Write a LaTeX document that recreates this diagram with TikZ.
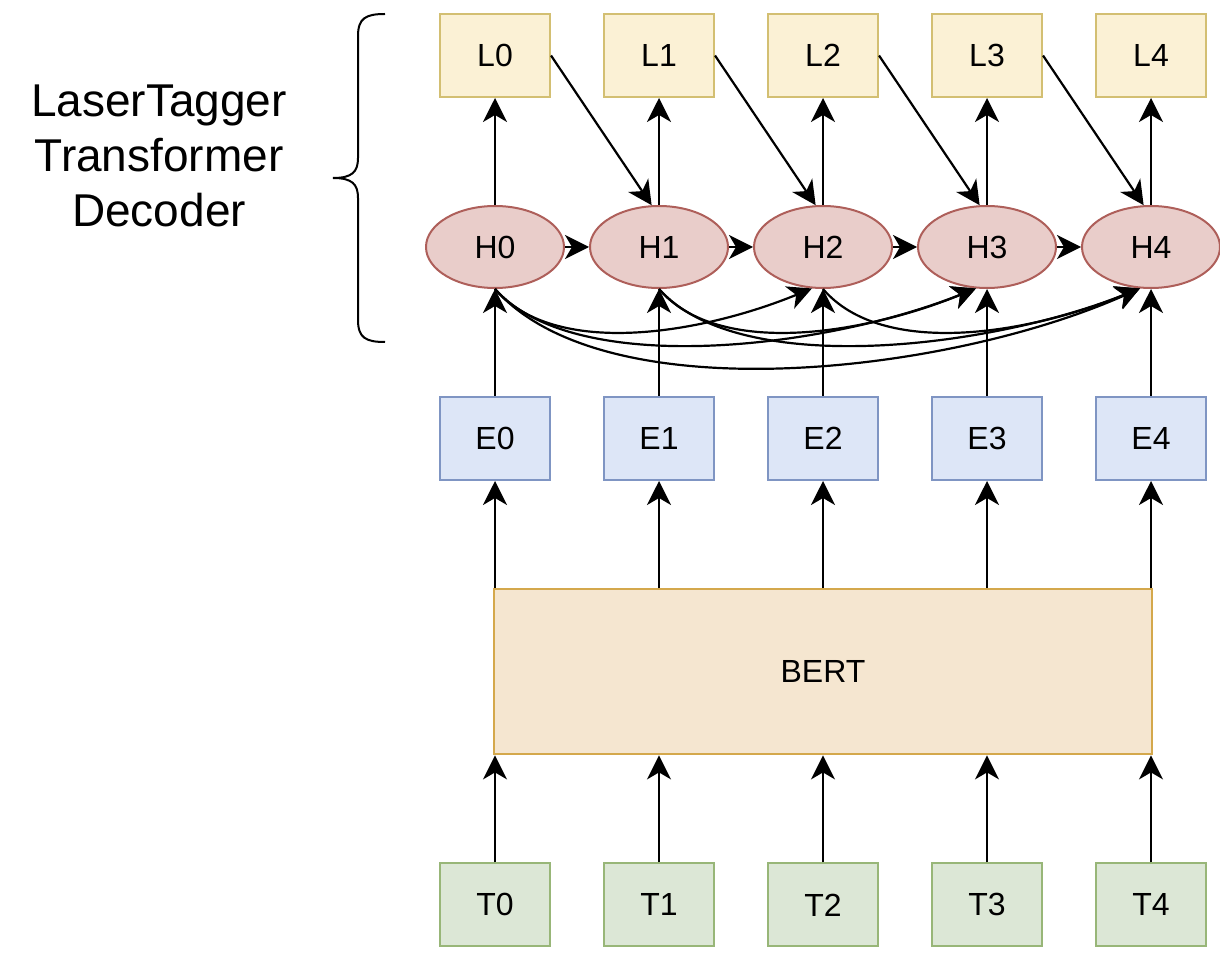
\documentclass[tikz,border=0pt]{standalone}
\usepackage{fontspec}
\setmainfont{Liberation Sans}
\usetikzlibrary{positioning, arrows.meta, shapes.geometric}
\definecolor{labfill}{HTML}{FBF1D5}
\definecolor{labdraw}{HTML}{D3BF72}
\definecolor{hidfill}{HTML}{E9CDCA}
\definecolor{hiddraw}{HTML}{AE5F5A}
\definecolor{embfill}{HTML}{DDE6F7}
\definecolor{embdraw}{HTML}{7F95C3}
\definecolor{tokfill}{HTML}{DCE7D6}
\definecolor{tokdraw}{HTML}{98B678}
\definecolor{bertfill}{HTML}{F5E6D0}
\definecolor{bertdraw}{HTML}{D4A84C}
\tikzset{
  cell/.style    = {rectangle, line width=1pt, minimum width=55pt, minimum height=41.5pt,
                    inner sep=0pt, font=\fontsize{16}{19}\selectfont},
  labbox/.style  = {cell, draw=labdraw, fill=labfill},
  embbox/.style  = {cell, draw=embdraw, fill=embfill},
  tokbox/.style  = {cell, draw=tokdraw, fill=tokfill},
  bertbox/.style = {cell, draw=bertdraw, fill=bertfill, line width=1.2pt,
                    minimum width=329pt, minimum height=82.5pt},
  hid/.style     = {ellipse, line width=1pt, draw=hiddraw, fill=hidfill, minimum width=69pt,
                    minimum height=41pt, inner sep=0pt, font=\fontsize{16}{19}\selectfont},
  ar/.style      = {-{Stealth[length=12pt,width=12pt,inset=3.5pt]}, line width=1.1pt, draw=black},
}

\begin{document}
\begin{tikzpicture}[x=0.5pt, y=-0.5pt, node distance=53.5pt and 26pt]
  \useasboundingbox (0,0) rectangle (1220,962);

  % labels, hidden states, embeddings
  \node[labbox] (l0) at (495,55.5) {L0};
  \foreach \i [count=\j from 0] in {1,...,4}
    \node[labbox, right=of l\j] (l\i) {L\i};
  \foreach \i in {0,...,4} {
    \node[hid, below=of l\i] (h\i) {H\i};
    \node[embbox, below=of h\i] (e\i) {E\i};
  }

  % encoder and tokens
  \node[bertbox, below=of e2] (bert) {BERT};
  \node[tokbox, below=of bert] (t2) {T2};
  \foreach \i in {0,1,3,4}
    \node[tokbox] (t\i) at (e\i |- t2) {T\i};

  \foreach \i in {0,...,4} {
    \draw[ar] (t\i) -- (t\i |- bert.south);
    \draw[ar] (e\i |- bert.north) -- (e\i);
    \draw[ar] (e\i) -- (h\i);
    \draw[ar] (h\i) -- (l\i);
  }
  \foreach \i [count=\j from 1] in {0,...,3} {
    \draw[ar] (h\i) -- (h\j);
    \draw[ar] (l\i.east) -- (h\j.100);
  }

  % skip connections between hidden states
  \foreach \p/\q/\a/\b/\c/\d in {0/2/60/70/-110/45, 1/3/60/70/-110/45, 2/4/60/70/-110/45,
                                 0/3/80/90/-150/60, 1/4/80/90/-150/60, 0/4/110/125/-190/85}
    \draw[ar] (h\p.south) .. controls +(\a,\b) and +(\c,\d) .. (h\q.-105);

  % brace and decoder label
  \draw[line width=1pt] (385,14) .. controls (366,14) and (358,18) .. (358,36) -- (358,158)
    .. controls (358,172) and (352,178) .. (333,178)
    .. controls (352,178) and (358,184) .. (358,198) -- (358,320)
    .. controls (358,338) and (366,342) .. (385,342);
  \node[font=\fontsize{23}{27.5}\selectfont, align=center] (dec) at (159,156)
    {LaserTagger\\Transformer\\Decoder};

\end{tikzpicture}
\end{document}
